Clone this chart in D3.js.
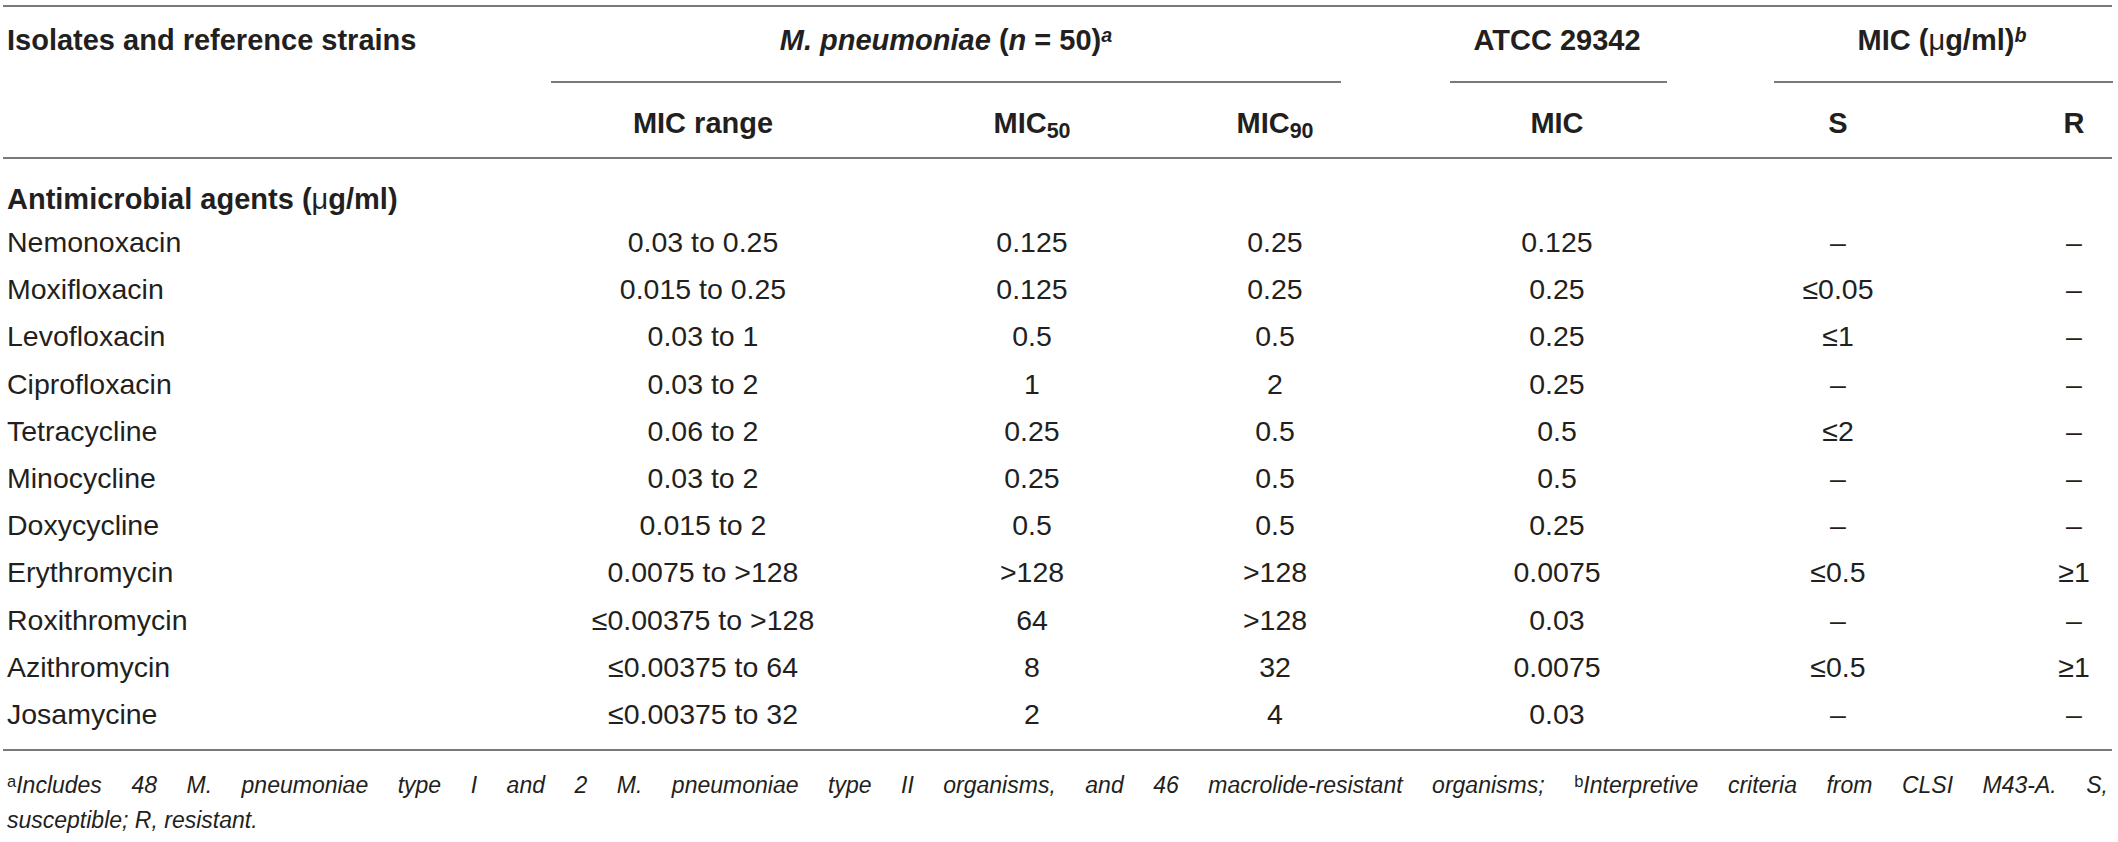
<!DOCTYPE html>
<html>
<head>
<meta charset="utf-8">
<script src="https://cdn.jsdelivr.net/npm/d3@7"></script>
<style>
  body { margin: 0; background: #fff; }
  svg { display: block; font-family: "Liberation Sans", Arial, Helvetica, sans-serif; }
</style>
</head>
<body>
<div id="table"></div>
<script>
// Table values
const agents = ["Nemonoxacin", "Moxifloxacin", "Levofloxacin", "Ciprofloxacin", "Tetracycline",
    "Minocycline", "Doxycycline", "Erythromycin", "Roxithromycin", "Azithromycin", "Josamycine"];
const micRange = ["0.03 to 0.25", "0.015 to 0.25", "0.03 to 1", "0.03 to 2", "0.06 to 2", "0.03 to 2",
    "0.015 to 2", "0.0075 to >128", "≤0.00375 to >128", "≤0.00375 to 64", "≤0.00375 to 32"];
const mic50 = ["0.125", "0.125", "0.5", "1", "0.25", "0.25", "0.5", ">128", "64", "8", "2"];
const mic90 = ["0.25", "0.25", "0.5", "2", "0.5", "0.5", "0.5", ">128", ">128", "32", "4"];
const atccMic = ["0.125", "0.25", "0.25", "0.25", "0.5", "0.5", "0.25", "0.0075", "0.03", "0.0075", "0.03"];
const breakS = ["–", "≤0.05", "≤1", "–", "≤2", "–", "–", "≤0.5", "–", "≤0.5", "–"];
const breakR = ["–", "–", "–", "–", "–", "–", "–", "≥1", "–", "≥1", "–"];

const width = 2118, height = 842;
const ink = "#231f20";
const ruleColor = "#7a7a7a";
const bodySize = 28.5, headSize = 29, noteSize = 23;

const svg = d3.select("#table").append("svg")
    .attr("width", width)
    .attr("height", height);

// Row positions (baselines) and column centres
const y = d3.scalePoint().domain(agents).range([252, 724]);
const columns = ["range", "m50", "m90", "atcc", "s", "r"];
const x = d3.scaleOrdinal().domain(columns).range([703, 1032, 1275, 1557, 1838, 2074]);
const columnValues = { range: micRange, m50: mic50, m90: mic90, atcc: atccMic, s: breakS, r: breakR };

// helper: text made of styled pieces
function rich(g, px, py, anchor, pieces, size, weight) {
    const t = g.append("text")
        .attr("x", px).attr("y", py)
        .attr("text-anchor", anchor)
        .attr("font-size", size)
        .attr("font-weight", weight)
        .attr("fill", ink);
    pieces.forEach(p => {
        const s = t.append("tspan").text(p.t);
        if (p.i) s.attr("font-style", "italic");
        if (p.w) s.attr("font-weight", p.w);
        if (p.sup) s.attr("font-size", size * 0.68).attr("baseline-shift", "38%");
        if (p.sub) s.attr("font-size", size * 0.74).attr("baseline-shift", "-26%");
    });
    return t;
}

// Rules
const rules = [
    [3, 2112, 6], [551, 1341, 82], [1450, 1667, 82], [1774, 2113, 82],
    [3, 2112, 158], [3, 2112, 750]
];
svg.selectAll("line.rule")
    .data(rules)
  .enter().append("line")
    .attr("class", "rule")
    .attr("x1", d => d[0]).attr("x2", d => d[1])
    .attr("y1", d => d[2]).attr("y2", d => d[2])
    .attr("stroke", ruleColor)
    .attr("stroke-width", 2);

// Header
const head = svg.append("g");
rich(head, 7, 50, "start", [{ t: "Isolates and reference strains" }], headSize, "bold");
rich(head, 946, 50, "middle", [
    { t: "M. pneumoniae", i: true }, { t: " (" }, { t: "n", i: true }, { t: " = 50)" },
    { t: "a", i: true, sup: true }
], headSize, "bold");
rich(head, 1557, 50, "middle", [{ t: "ATCC 29342" }], headSize, "bold");
rich(head, 1942, 50, "middle", [
    { t: "MIC (" }, { t: "μ", w: "normal" }, { t: "g/ml)" }, { t: "b", i: true, sup: true }
], headSize, "bold");

rich(head, x("range"), 133, "middle", [{ t: "MIC range" }], headSize, "bold");
rich(head, x("m50"), 133, "middle", [{ t: "MIC" }, { t: "50", sub: true }], headSize, "bold");
rich(head, x("m90"), 133, "middle", [{ t: "MIC" }, { t: "90", sub: true }], headSize, "bold");
rich(head, x("atcc"), 133, "middle", [{ t: "MIC" }], headSize, "bold");
rich(head, x("s"), 133, "middle", [{ t: "S" }], headSize, "bold");
rich(head, x("r"), 133, "middle", [{ t: "R" }], headSize, "bold");

rich(head, 7, 209, "start", [
    { t: "Antimicrobial agents (" }, { t: "μ", w: "normal" }, { t: "g/ml)" }
], headSize, "bold");

// Body rows
const body = svg.append("g").attr("font-size", bodySize).attr("fill", ink);

body.selectAll("text.agent")
    .data(agents)
  .enter().append("text")
    .attr("class", "agent")
    .attr("x", 7)
    .attr("y", d => y(d))
    .text(d => d);

columns.forEach(col => {
    body.selectAll("text.c-" + col)
        .data(columnValues[col])
      .enter().append("text")
        .attr("class", "c-" + col)
        .attr("x", x(col))
        .attr("y", (d, i) => y(agents[i]))
        .attr("text-anchor", "middle")
        .text(d => d);
});

// Footnote
const note1 = svg.append("text")
    .attr("x", 7).attr("y", 793)
    .attr("font-size", noteSize)
    .attr("fill", ink);
note1.append("tspan").attr("font-size", noteSize * 0.72).attr("baseline-shift", "38%").text("a");
note1.append("tspan").attr("font-style", "italic")
    .text("Includes 48 M. pneumoniae type I and 2 M. pneumoniae type II organisms, and 46 macrolide-resistant organisms; ");
note1.append("tspan").attr("font-size", noteSize * 0.72).attr("baseline-shift", "38%").text("b");
note1.append("tspan").attr("font-style", "italic")
    .text("Interpretive criteria from CLSI M43-A. S,");

// justify the first footnote line
const natural = note1.node().getComputedTextLength();
const gaps = note1.text().split(" ").length - 1;
note1.attr("word-spacing", Math.max(0, (2108 - 7 - natural) / gaps));

svg.append("text")
    .attr("x", 7).attr("y", 828)
    .attr("font-size", noteSize)
    .attr("font-style", "italic")
    .attr("fill", ink)
    .text("susceptible; R, resistant.");
</script>
</body>
</html>
